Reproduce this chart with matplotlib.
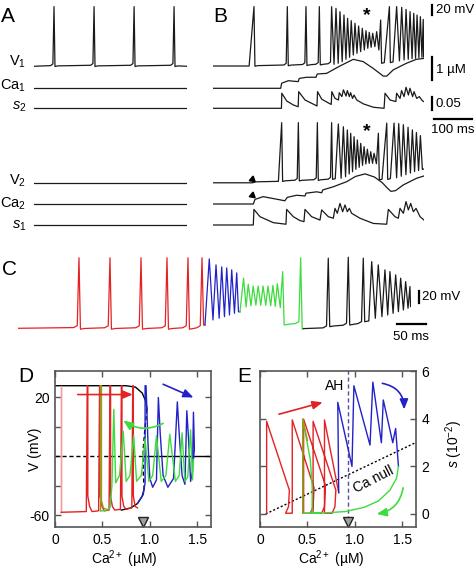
import numpy as np
import matplotlib
matplotlib.use("Agg")
import matplotlib.pyplot as plt

plt.rcParams["font.family"] = ["Liberation Sans", "DejaVu Sans"]
plt.rcParams["mathtext.fontset"] = "custom"
plt.rcParams["mathtext.rm"] = "Liberation Sans"
plt.rcParams["mathtext.it"] = "Liberation Sans:italic"
plt.rcParams["axes.unicode_minus"] = False

W, H = 476, 572
RED, BLUE, GREEN, OLIVE, PINK = "#e32224", "#2222c8", "#3cdc3c", "#9a9a20", "#f2a0a0"
INK = "#1a1a1a"

# ---------------- panel A (ms, mV, uM, s) ----------------
A_T = 402.0
v1a_t = [52.6, 157.8, 263.0, 368.0]
v1a_peak = [49, 49, 49, 49]
v1a_low = [-66, -66, -66, -66]
CA_REST = 0.05

# ---------------- panel B ----------------
B_T = 555.0
v1b_t = [107.8, 195.5, 244.6, 279.7, 312, 323.5, 334, 344.5, 354, 363.6, 373.5, 383, 392.7,
         402.4, 411, 420, 430.5, 441, 464, 483, 496.4, 507.8, 518.3, 528, 536.7, 545.5, 553]
v1b_peak = [49, 49, 49, 49, 48.9, 45.7, 39.3, 32.9, 26.5, 22, 17, 11.8, 7.4, 2.8, -0.3, -2.2,
            0.9, 23.3, 49, 49, 47.6, 43.7, 39.3, 36.1, 32.9, 29.7, 24.5]
v1b_low = [-65.5, -64.5, -64, -63, -61.7, -59.8, -56.7, -52.1, -48.3, -43.9, -40.6, -37.5,
           -34.3, -31, -29.1, -27.9, -34.3, -59.8, -58.5, -55.2, -53.5, -52.1, -50.9, -50.2,
           -49, -48.3, -48]

ca1b_t = [0, 178, 180.6, 198, 224, 227, 246, 271, 274, 299, 312, 334, 369, 395, 421, 448,
          457, 474, 509, 535, 555]
ca1b_v = [0.05, 0.05, 0.27, 0.38, 0.34, 0.48, 0.53, 0.53, 0.67, 0.70, 0.82, 1.02, 1.31, 1.21,
          0.92, 0.58, 0.58, 0.85, 1.14, 1.31, 1.35]

s2b_t = [0, 180, 181, 194, 211, 224, 225.5, 242, 268, 273.5, 275, 286, 308, 311, 312.5, 321,
         330, 332, 339, 343, 350, 353.4, 358.7, 362, 367, 371, 378, 395.5, 422, 450, 452.5,
         465.7, 481, 483, 492, 496, 502.5, 507.8, 514, 518, 525, 528.8, 535.8, 542.8, 549, 553.4]
s2b_v = [0, 0, 0.058, 0.028, 0.013, 0.006, 0.064, 0.032, 0.013, 0.009, 0.064, 0.035, 0.017,
         0.015, 0.064, 0.038, 0.032, 0.060, 0.045, 0.071, 0.047, 0.068, 0.045, 0.060, 0.038,
         0.051, 0.032, 0.017, 0.004, 0, 0.058, 0.032, 0.026, 0.058, 0.038, 0.068, 0.045, 0.081,
         0.051, 0.077, 0.045, 0.064, 0.038, 0.045, 0.032, 0.026]

v2b_base_t = [0, 104, 112, 172]
v2b_base_v = [-64.6, -64.6, -62.8, -61.8]
v2b_t = [180.6, 224.5, 274.5, 312, 329.7, 342.9, 353.4, 362.2, 371, 379.7, 388.5, 397.3, 406,
         414.8, 423.6, 435, 457, 476.2, 488.5, 500.7, 513, 524.4, 535, 545.5]
v2b_peak = [50.8, 50.8, 50.8, 50.8, 48.3, 43, 36.8, 30.4, 23.9, 17.6, 11.2, 4.8, -0.2, -4.9,
            -8, 30.4, 50, 50, 49, 47, 42, 37, 32, 26]
v2b_low = [-62, -61, -60, -58, -56, -52.9, -47.7, -43.3, -38.7, -34.9, -31, -28.5, -27.2,
           -27.2, -28, -59, -58, -55, -52, -49, -46, -43, -41, -39]

ca2b_t = [0, 106, 110.5, 132, 189, 195.5, 220, 242, 244.6, 272.6, 286, 288.5, 316.5, 351.6,
          375, 400, 425, 445, 460, 468, 480, 500.5, 535.7, 555]
ca2b_v = [0.05, 0.05, 0.25, 0.37, 0.19, 0.34, 0.43, 0.40, 0.52, 0.58, 0.54, 0.66, 0.80, 1.02,
          1.25, 1.36, 1.22, 0.98, 0.72, 0.60, 0.63, 0.88, 1.17, 1.27]

s1b_t = [0, 106, 107.7, 123.5, 158.6, 191.9, 193.7, 211.2, 228.8, 239.3, 241.9, 259.4, 281.4,
         285.8, 303.3, 316.5, 320.9, 327, 334, 341, 347.2, 353.3, 358.6, 364.7, 386.6, 421.7,
         456.8, 461.2, 478.7, 487.5, 491.9, 500.7, 507.7, 513.8, 520, 527, 534, 544.6, 555]
s1b_v = [0, 0, 0.060, 0.032, 0.009, 0.003, 0.060, 0.032, 0.017, 0.013, 0.060, 0.032, 0.019,
         0.058, 0.032, 0.026, 0.064, 0.045, 0.083, 0.051, 0.077, 0.051, 0.064, 0.045, 0.026,
         0.006, 0.003, 0.060, 0.032, 0.026, 0.064, 0.045, 0.090, 0.058, 0.083, 0.051, 0.064,
         0.032, 0.019]

# ---------------- panel C (one trace, four colored epochs) ----------------
C_T = 676.0
red_c_t = [104.9, 158.2, 211.6, 256.3, 292.4, 316.5]
red_c_peak = [52, 52, 52, 52, 52, 52]
red_c_low = [-67, -67, -67, -67, -67, -60]
blue_c_t = [329, 340.6, 350.4, 359, 367.6, 376.2]
blue_c_peak = [50.2, 40.2, 36.9, 35.2, 31.9, 26.9]
blue_c_low = [-51.6, -48.8, -46.1, -43.3, -40.5, -38]
green_c_t = [388, 396, 404.5, 413, 421.5, 430, 438.5, 446, 455.3, 486.2]
green_c_peak = [18, 8, 5, 5, 5, 5, 6, 9, 29, 52]
green_c_low = [-30, -28, -27, -27, -27, -28, -29, -31, -60, -67]
black_c_t = [533.7, 568.1, 593.9, 608.4, 619.7, 631.2, 639.8, 649.6, 658.2, 666.8, 674.2]
black_c_peak = [51.4, 53, 51.4, 45.7, 40.2, 31.9, 29, 23.5, 18, 12.3, 4]
black_c_low = [-62.8, -60, -54.5, -48.8, -46.1, -43.3, -40.5, -37.8, -35, -32.1, -29.4]

# ---------------- panel D (Ca uM, V mV) ----------------
null_top_ca = [0.0, 0.75, 0.85, 0.92, 0.96, 0.97]
null_top_v = [28, 28, 27, 23, 17, 12]
null_mid_ca = [0.97, 0.95, 0.93, 0.93, 0.94]
null_mid_v = [12, 0, -15, -30, -42]
null_low_ca = [0.94, 0.92, 0.87, 0.80, 0.70]
null_low_v = [-42, -47, -52, -55, -56.5]
V_THRESH, CA_AH = -20, 0.93
red_d_up = [0.34, 0.47, 0.58, 0.70, 0.82]
red_d_floor = [-57.5, -57, -56.5, -56, -55]
pink_d_ca = [0.06, 0.06, 0.065, 0.065]
pink_d_v = [-58, 28, 28, -58]
blue_d_ca = [0.87, 0.93, 0.95, 0.95, 0.96, 0.98, 1.0, 1.03, 1.07, 1.09, 1.11, 1.14, 1.19, 1.25,
             1.29, 1.31, 1.34, 1.37, 1.39, 1.41, 1.43, 1.45, 1.46, 1.47, 1.46]
blue_d_v = [-52, -46, -38, 28, 28, -10, -35, -41, -36, 20, -5, -33, -41, -35, 17, -5, -33, -39,
            11, -10, -37, -30, 10, -15, -22]
green_d_ca = [1.46, 1.45, 1.43, 1.40, 1.37, 1.34, 1.31, 1.27, 1.21, 1.17, 1.12, 1.07, 1.03, 0.99,
              0.95, 0.91, 0.86, 0.83, 0.79, 0.75, 0.72, 0.68, 0.64, 0.62, 0.60, 0.58, 0.53, 0.48]
green_d_v = [-22, -36, -2, -34, -37, -4, -33, -37, -5, -33, -37, -6, -33, -37, -8, -33, -37, -6,
             -33, -37, -3, -33, -38, 12, -40, -55, -57, -57]
olive_d_ca = [0.48, 0.48, 0.49, 0.49, 0.51, 0.54]
olive_d_v = [-57, 28, 28, -50, -55, -56]

# ---------------- panel E (Ca uM, s x100) ----------------
ca_null_ca = [0.06, 1.64]
ca_null_s = [0.0, 3.0]
red_e_up = [0.07, 0.34, 0.46, 0.56, 0.68]
red_e_top = [3.9, 3.96, 3.99, 3.9, 3.96]
red_e_end_ca = [0.31, 0.57, 0.69, 0.80, 0.83]
red_e_end_s = [1.0, 1.1, 1.2, 1.0, 0.9]
blue_e_ca = [0.83, 0.82, 0.97, 0.99, 1.16, 1.19, 1.28, 1.30, 1.40, 1.43, 1.46]
blue_e_s = [0.9, 4.7, 2.0, 5.4, 2.9, 5.55, 3.0, 4.8, 3.0, 3.6, 2.0]
green_e_ca = [1.46, 1.44, 1.37, 1.25, 1.10, 0.90, 0.70, 0.57, 0.45, 0.45, 0.53, 0.55, 0.55, 0.62]
green_e_s = [2.0, 1.5, 1.0, 0.55, 0.28, 0.10, 0.05, 0.03, 0.03, 4.0, 2.3, 1.2, 0.05, 0.03]
olive_e_ca = [0.45, 0.45, 0.50]
olive_e_s = [0.03, 4.0, 3.1]


fig = plt.figure(figsize=(W / 100, H / 100), dpi=100)


def ftext(x, y, s, **kw):
    return fig.text(x / W, 1 - y / H, s, **kw)


def strip(x0, x1, tmax, y_ref, v_ref, px_per_unit):
    # transparent full-height axes; v_ref lands on pixel row y_ref
    ax = fig.add_axes([x0 / W, 0, (x1 - x0) / W, 1])
    ax.set_xlim(0, tmax)
    ax.set_ylim(v_ref - (H - y_ref) / px_per_unit, v_ref + y_ref / px_per_unit)
    ax.axis("off")
    ax.patch.set_alpha(0)
    return ax


def spike_path(t0, v0, times, peaks, lows, t1, v1, fall=2.5):
    xs, ys = list(np.atleast_1d(t0)), list(np.atleast_1d(v0))
    prev = ys[-1]
    for i, (t, p, lo) in enumerate(zip(times, peaks, lows)):
        nxt = times[i + 1] if i + 1 < len(times) else t1
        if t - xs[-1] > 14:
            xs += [t - 9, t - 3]
            ys += [prev + 1.2, prev + 4.5]
        xs.append(t)
        ys.append(p)
        isi = nxt - t
        if isi > 14:
            xs += [t + fall, t + fall + 7]
            ys += [lo, lo + 1.2]
            prev = lo + 1.2
        else:
            xs.append(t + isi * 0.55)
            ys.append(lo)
            prev = lo
    xs.append(t1)
    ys.append(v1)
    return xs, ys


V_PX = 1 / 1.92  # px per mV in A/B
CA_PX = 23.0
S_PX = 260.0
LW = 0.9

# ---- A ----
ax = strip(34, 187, A_T, 66, -65, V_PX)
ax.plot(*spike_path(0, -65.5, v1a_t, v1a_peak, v1a_low, A_T, -65.5), color=INK, lw=LW)
for y_ref, ref, ppu in [(88.3, CA_REST, CA_PX), (108.3, 0, S_PX), (225, 0, S_PX),
                        (204, CA_REST, CA_PX), (183, -65, V_PX)]:
    a = strip(34, 187, A_T, y_ref, ref, ppu)
    a.plot([0, A_T], [ref, ref], color=INK, lw=LW)

# ---- B ----
axv1 = strip(213, 424, B_T, 66, -65, V_PX)
axv1.plot(*spike_path([0, 95], [-65, -65], v1b_t, v1b_peak, v1b_low, B_T, -48), color=INK, lw=LW)
axca1 = strip(213, 424, B_T, 88.3, CA_REST, CA_PX)
axca1.plot(ca1b_t, ca1b_v, color=INK, lw=LW)
axs2 = strip(213, 424, B_T, 108.3, 0, S_PX)
axs2.plot(s2b_t, s2b_v, color=INK, lw=LW)
axv2 = strip(213, 424, B_T, 183, -65, V_PX)
axv2.plot(*spike_path(v2b_base_t, v2b_base_v, v2b_t, v2b_peak, v2b_low, B_T, -38),
          color=INK, lw=LW)
axca2 = strip(213, 424, B_T, 204, CA_REST, CA_PX)
axca2.plot(ca2b_t, ca2b_v, color=INK, lw=LW)
axs1 = strip(213, 424, B_T, 225, 0, S_PX)
axs1.plot(s1b_t, s1b_v, color=INK, lw=LW)

# arrowheads marking the start of the V2/Ca2 responses
axv2.plot([102], [-57.5], marker=(3, 0, -130), ms=5, color="k", clip_on=False)
axca2.plot([102], [0.45], marker=(3, 0, -130), ms=5, color="k", clip_on=False)

# scale bars
tb = (432 - 213) * 2.63
axv1.plot([tb, tb], [32, 52], color="k", lw=1.6, clip_on=False)
axca1.plot([tb, tb], [0.41, 1.41], color="k", lw=1.6, clip_on=False)
axs2.plot([tb, tb], [-0.007, 0.043], color="k", lw=1.6, clip_on=False)
axs2.plot([581, 681], [-0.041, -0.041], color="k", lw=1.6, clip_on=False)
ftext(436, 10, "20 mV", fontsize=9.5, va="center")
ftext(436, 70, "1 µM", fontsize=9.5, va="center")
ftext(435, 104, "0.05", fontsize=9.5, va="center")
ftext(453, 130, "100 ms", fontsize=9.5, va="center", ha="center")
ftext(367, 7, "*", fontsize=14, ha="center", va="top", fontweight="bold")
ftext(367, 123, "*", fontsize=14, ha="center", va="top", fontweight="bold")

# ---- C ----
axc = strip(18, 411, C_T, 328, -65, 0.6)
axc.plot(*spike_path(0, -65.5, red_c_t, red_c_peak, red_c_low, 321.6, -60), color=RED, lw=LW)
axc.plot(*spike_path(321.6, -60, blue_c_t, blue_c_peak, blue_c_low, 381.8, -38), color=BLUE, lw=LW)
axc.plot(*spike_path(381.8, -38, green_c_t, green_c_peak, green_c_low, 491, -66),
         color=GREEN, lw=LW)
axc.plot(*spike_path(491, -66, black_c_t, black_c_peak, black_c_low, C_T, -29), color=INK, lw=LW)
tcb = (419 - 18) * 1.72
axc.plot([tcb, tcb], [-23.2, -3.2], color="k", lw=1.6, clip_on=False)
axc.plot([652, 702], [-58.3, -58.3], color="k", lw=1.6, clip_on=False)
ftext(422, 297, "20 mV", fontsize=9.5, va="center")
ftext(411, 337, "50 ms", fontsize=9.5, va="center", ha="center")

# ---- D ----
axD = fig.add_axes([55 / W, 1 - 527 / H, 156 / W, 156 / H])
axD.set_xlim(0, 1.645)
axD.set_ylim(-68, 38)
axD.plot(null_top_ca, null_top_v, color="k", lw=1)
axD.plot(null_mid_ca, null_mid_v, color="k", lw=1, ls=(0, (3, 2)))
axD.plot(null_low_ca, null_low_v, color="k", lw=1)
axD.plot([0, CA_AH], [V_THRESH, V_THRESH], color="k", lw=1, ls=(0, (3, 2)))
axD.plot([CA_AH, 1.645], [V_THRESH, V_THRESH], color="k", lw=1)
axD.plot(pink_d_ca, pink_d_v, color=PINK, lw=1)
rx, ry = [0.065], [-58]
for u, f in zip(red_d_up, red_d_floor):
    rx += [u - 0.01, u, u + 0.006, u + 0.006, u + 0.025, u + 0.05]
    ry += [f, 28, 28, -47, -54, f]
axD.plot(rx, ry, color=RED, lw=1)
axD.plot(blue_d_ca, blue_d_v, color=BLUE, lw=1)
axD.plot(green_d_ca, green_d_v, color=GREEN, lw=1)
axD.plot(olive_d_ca, olive_d_v, color=OLIVE, lw=1)
arw = "-|>,head_length=0.6,head_width=0.25"
axD.annotate("", xy=(0.82, 22), xytext=(0.24, 22),
             arrowprops=dict(arrowstyle=arw, color=RED, lw=1.2, shrinkA=0, shrinkB=0))
axD.annotate("", xy=(1.46, 20), xytext=(1.14, 29),
             arrowprops=dict(arrowstyle=arw, color=BLUE, lw=1.2, shrinkA=0, shrinkB=0))
axD.annotate("", xy=(0.72, 4.4), xytext=(1.14, 2.4),
             arrowprops=dict(arrowstyle=arw, color=GREEN, lw=1.2, shrinkA=0, shrinkB=0,
                             connectionstyle="arc3,rad=-0.3"))
axD.plot([CA_AH], [-64.4], marker="v", ms=7, mfc="#a0a0a0", mec="#222222", clip_on=False)
axD.set_xticks([0, 0.5, 1.0, 1.5])
axD.set_xticklabels(["0", "0.5", "1.0", "1.5"])
axD.set_yticks([-60, -40, -20, 0, 20])
axD.set_yticklabels(["-60", "", "", "", "20"])
axD.set_ylabel("V (mV)", fontsize=10)
axD.yaxis.set_label_coords(-0.083, 0.5)
axD.set_xlabel("Ca$^{2+}$ (µM)", fontsize=10)
axD.xaxis.set_label_coords(0.445, -0.135)

# ---- E ----
axE = fig.add_axes([260 / W, 1 - 527 / H, 156 / W, 156 / H])
axE.set_xlim(0, 1.645)
axE.set_ylim(-0.55, 6.02)
axE.plot(ca_null_ca, ca_null_s, color="k", lw=1, ls=(0, (1.5, 1.5)))
axE.axvline(CA_AH, color="#5a4aa0", lw=1, ls=(0, (3, 2)))
ex, ey = [], []
for i, u in enumerate(red_e_up):
    ex += [u, u, red_e_end_ca[i]]
    ey += [0.03, red_e_top[i], red_e_end_s[i]]
    if i < len(red_e_up) - 1:
        ex += [red_e_end_ca[i] - 0.01, red_e_end_ca[i] - 0.04]
        ey += [0.3, 0.03]
axE.plot(ex, ey, color=RED, lw=1)
axE.plot(blue_e_ca, blue_e_s, color=BLUE, lw=1)
axE.plot(green_e_ca, green_e_s, color=GREEN, lw=1)
axE.plot(olive_e_ca, olive_e_s, color=OLIVE, lw=1)
axE.annotate("", xy=(0.66, 4.7), xytext=(0.2, 4.2),
             arrowprops=dict(arrowstyle=arw, color=RED, lw=1.2, shrinkA=0, shrinkB=0))
axE.annotate("", xy=(1.52, 4.4), xytext=(1.29, 5.5),
             arrowprops=dict(arrowstyle=arw, color=BLUE, lw=1.2, shrinkA=0, shrinkB=0,
                             connectionstyle="arc3,rad=-0.4"))
axE.annotate("", xy=(1.23, 0.0), xytext=(1.51, 1.1),
             arrowprops=dict(arrowstyle=arw, color=GREEN, lw=1.2, shrinkA=0, shrinkB=0,
                             connectionstyle="arc3,rad=-0.35"))
axE.plot([CA_AH], [-0.34], marker="v", ms=7, mfc="#a0a0a0", mec="#222222", clip_on=False)
axE.text(0.79, 5.39, "AH", fontsize=10, ha="center", va="center")
axE.text(1.2, 1.45, "Ca null", fontsize=10, ha="center", va="center", rotation=27)
axE.set_xticks([0, 0.5, 1.0, 1.5])
axE.set_xticklabels(["0", "0.5", "1.0", "1.5"])
axE.set_yticks([0, 2, 4, 6])
axE.yaxis.tick_right()
axE.set_ylabel("$s$ (10$^{-2}$)", fontsize=10)
axE.yaxis.set_label_position("right")
axE.yaxis.set_label_coords(1.173, 0.532)
axE.set_xlabel("Ca$^{2+}$ (µM)", fontsize=10)
axE.xaxis.set_label_coords(0.455, -0.135)

for a in (axD, axE):
    for sp in a.spines.values():
        sp.set_color("#555555")
        sp.set_linewidth(1.2)
    a.tick_params(direction="in", top=True, bottom=True, left=True, right=True, length=4,
                  width=1, color="#555555", labelsize=10, pad=4)
axE.tick_params(labelleft=False, labelright=True)

# labels
ftext(1, 22, "A", fontsize=15)
ftext(213, 22, "B", fontsize=15)
ftext(2, 275, "C", fontsize=15)
ftext(18, 382, "D", fontsize=15)
ftext(237, 382, "E", fontsize=15)
for y, s in [(66, "V$_1$"), (89.3, "Ca$_1$"), (110, "$s_2$"), (185, "V$_2$"),
             (207.3, "Ca$_2$"), (228.3, "$s_1$")]:
    ftext(26, y, s, fontsize=10.5, ha="right", va="baseline")

fig.savefig("out.png", dpi=100)
